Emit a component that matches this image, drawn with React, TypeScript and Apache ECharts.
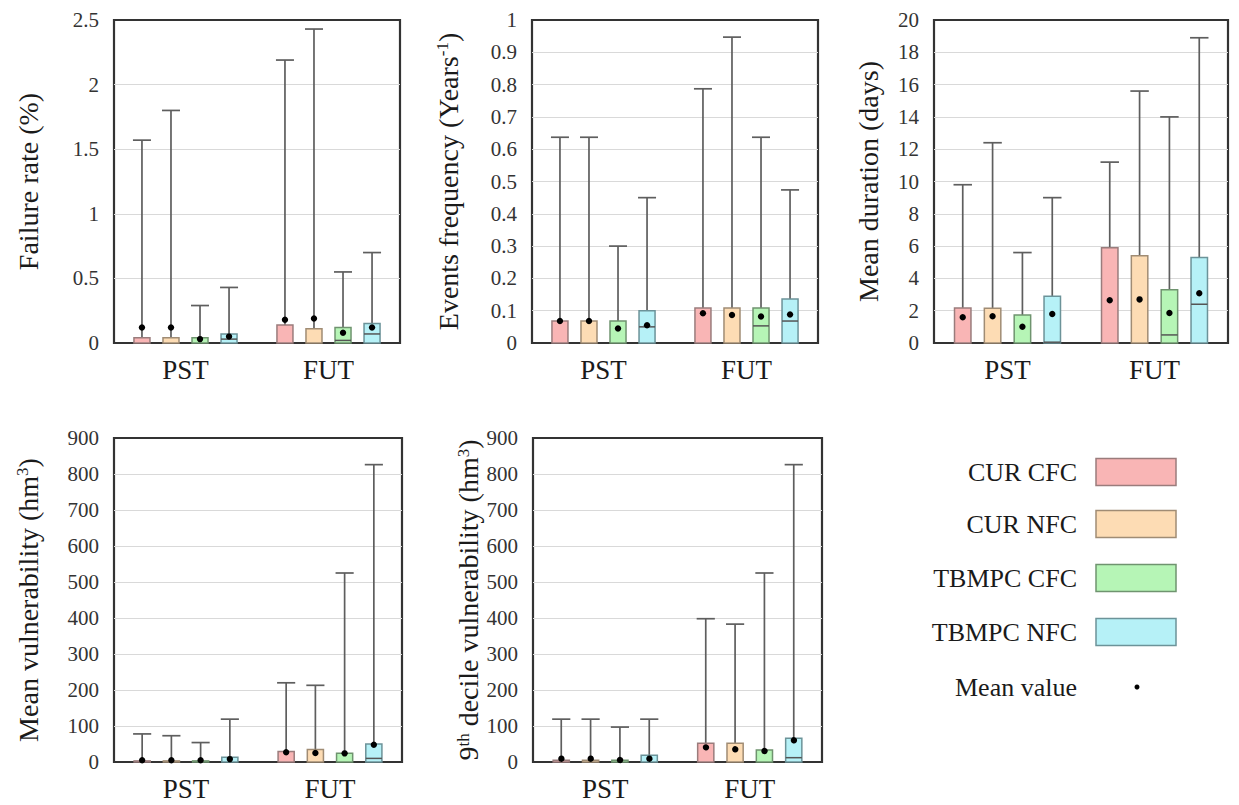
import React, { useEffect, useRef } from 'react';
import * as echarts from 'echarts';

const periods = ['PST', 'FUT'];
const scenarios = ['CUR CFC', 'CUR NFC', 'TBMPC CFC', 'TBMPC NFC'];
const fills = ['#f9b5b5', '#fddcb4', '#b6f5b6', '#b6f1f7'];
const strokes = ['#9a7c7c', '#a08c74', '#6f946f', '#6c9399'];

// values ordered: PST (4 scenarios), FUT (4 scenarios)
const failMax = [1.57, 1.8, 0.29, 0.43, 2.19, 2.43, 0.55, 0.7];
const failQ3 = [0.04, 0.04, 0.04, 0.07, 0.14, 0.11, 0.12, 0.15];
const failMed = [0, 0, 0, 0.03, 0, 0, 0.02, 0.07];
const failMean = [0.12, 0.12, 0.03, 0.05, 0.18, 0.19, 0.08, 0.12];

const freqMax = [0.637, 0.637, 0.3, 0.45, 0.787, 0.947, 0.637, 0.474];
const freqQ3 = [0.068, 0.068, 0.068, 0.1, 0.108, 0.108, 0.108, 0.136];
const freqMed = [0, 0, 0, 0.05, 0, 0, 0.053, 0.068];
const freqMean = [0.068, 0.068, 0.045, 0.055, 0.092, 0.087, 0.082, 0.088];

const durMax = [9.8, 12.4, 5.6, 9.0, 11.2, 15.6, 14.0, 18.9];
const durQ3 = [2.17, 2.15, 1.73, 2.9, 5.9, 5.4, 3.3, 5.3];
const durMed = [0, 0, 0, 0.05, 0, 0, 0.5, 2.4];
const durMean = [1.6, 1.65, 1.0, 1.8, 2.65, 2.7, 1.86, 3.08];

const mvMax = [78, 73, 54, 119, 220, 213, 525, 826];
const mvQ3 = [3, 3, 3, 13, 29, 35, 24, 50];
const mvMed = [0, 0, 0, 0, 0, 0, 0, 10];
const mvMean = [5, 5, 5, 8, 27, 25, 24, 48];

const dvMax = [119, 119, 97, 119, 398, 383, 525, 826];
const dvQ3 = [5, 5, 5, 19, 52, 52, 33, 66];
const dvMed = [0, 0, 0, 0, 0, 0, 0, 12];
const dvMean = [12, 12, 8, 12, 44, 38, 33, 63];

const FONT = "'Liberation Serif', 'DejaVu Serif', serif";

const panels = [
  { name: 'Failure rate (%)', max: 2.5, interval: 0.5, gap: 72, grid: { left: 114, top: 20, width: 286, height: 323 }, q3: failQ3, med: failMed, mx: failMax, mean: failMean },
  { name: 'Events frequency (Years{sup|-1})', max: 1, interval: 0.1, gap: 70, grid: { left: 532, top: 20, width: 286, height: 323 }, q3: freqQ3, med: freqMed, mx: freqMax, mean: freqMean },
  { name: 'Mean duration (days)', max: 20, interval: 2, gap: 52, grid: { left: 934, top: 20, width: 294, height: 323 }, q3: durQ3, med: durMed, mx: durMax, mean: durMean },
  { name: 'Mean vulnerability (hm{sup|3})', max: 900, interval: 100, gap: 72, grid: { left: 114, top: 438, width: 288, height: 324 }, q3: mvQ3, med: mvMed, mx: mvMax, mean: mvMean },
  { name: '9{sup|th} decile vulnerability (hm{sup|3})', max: 900, interval: 100, gap: 48, grid: { left: 533, top: 438, width: 289, height: 324 }, q3: dvQ3, med: dvMed, mx: dvMax, mean: dvMean },
];

const renderBox = (params: any, api: any) => {
  const cat = api.value(0);
  const s = api.value(1);
  const band = api.size([1, 0])[0];
  const base = api.coord([cat, 0]);
  const x = base[0] + (s - 1.5) * band * 0.203;
  const bw = band * 0.112;
  const y0 = base[1];
  const yQ3 = api.coord([cat, api.value(2)])[1];
  const med = api.value(3);
  const yMed = api.coord([cat, med])[1];
  const yMax = api.coord([cat, api.value(4)])[1];
  const yMean = api.coord([cat, api.value(5)])[1];
  const children: any[] = [
    { type: 'line', shape: { x1: x, y1: yQ3, x2: x, y2: yMax }, style: { stroke: '#5e5e5e', lineWidth: 1.7 } },
    { type: 'line', shape: { x1: x - bw / 2 - 1, y1: yMax, x2: x + bw / 2 + 1, y2: yMax }, style: { stroke: '#5e5e5e', lineWidth: 1.7 } },
    { type: 'rect', shape: { x: x - bw / 2, y: yQ3, width: bw, height: y0 - yQ3 }, style: { fill: fills[s], stroke: strokes[s], lineWidth: 1.5 } },
  ];
  if (med > 0) {
    children.push({ type: 'line', shape: { x1: x - bw / 2, y1: yMed, x2: x + bw / 2, y2: yMed }, style: { stroke: '#555', lineWidth: 1.5 } });
  }
  children.push({ type: 'circle', shape: { cx: x, cy: yMean, r: 3.2 }, style: { fill: '#000' } });
  return { type: 'group', children };
};

export default function App() {
  const ref = useRef<HTMLDivElement>(null);
  useEffect(() => {
    if (!ref.current) return;
    const chart = echarts.init(ref.current, null, { renderer: 'svg' });
    const grids: any[] = [];
    const xAxes: any[] = [];
    const yAxes: any[] = [];
    const series: any[] = [];
    panels.forEach((p, i) => {
      grids.push({ ...p.grid, show: true, borderColor: '#333', borderWidth: 2.2, backgroundColor: '#fff' });
      xAxes.push({
        type: 'category', gridIndex: i, data: periods, boundaryGap: true,
        axisLine: { show: false }, axisTick: { show: false },
        axisLabel: { fontFamily: FONT, fontSize: 27, color: '#1a1a1a', margin: 13 },
        splitLine: { show: false },
      });
      yAxes.push({
        type: 'value', gridIndex: i, min: 0, max: p.max, interval: p.interval,
        name: p.name, nameLocation: 'middle', nameGap: p.gap, nameRotate: 90,
        nameTextStyle: {
          fontFamily: FONT, fontSize: 28, color: '#1a1a1a',
          rich: { sup: { fontFamily: FONT, fontSize: 17, color: '#1a1a1a', verticalAlign: 'top' } },
        },
        axisLine: { show: false }, axisTick: { show: false },
        axisLabel: { fontFamily: FONT, fontSize: 21, color: '#333', margin: 15 },
        splitLine: { show: true, showMinLine: false, showMaxLine: false, lineStyle: { color: '#d9d9d9', width: 1 } },
      });
      const data = p.mx.map((_, k) => [Math.floor(k / 4), k % 4, p.q3[k], p.med[k], p.mx[k], p.mean[k]]);
      series.push({
        type: 'custom', xAxisIndex: i, yAxisIndex: i, renderItem: renderBox, clip: false,
        encode: { x: 0, y: [2, 3, 4, 5] }, data, z: 5,
      });
    });

    const legendY = [472, 524, 578, 632];
    const graphic: any[] = [];
    scenarios.forEach((s, k) => {
      graphic.push({
        type: 'text', x: 1077, y: legendY[k],
        style: { text: s, font: `26px ${FONT}`, fill: '#1a1a1a', align: 'right', textAlign: 'right', verticalAlign: 'middle', textVerticalAlign: 'middle' },
      });
      graphic.push({
        type: 'rect', shape: { x: 1096, y: legendY[k] - 13.5, width: 80, height: 27 },
        style: { fill: fills[k], stroke: strokes[k], lineWidth: 1.5 },
      });
    });
    graphic.push({
      type: 'text', x: 1077, y: 687,
      style: { text: 'Mean value', font: `26px ${FONT}`, fill: '#1a1a1a', align: 'right', textAlign: 'right', verticalAlign: 'middle', textVerticalAlign: 'middle' },
    });
    graphic.push({ type: 'circle', shape: { cx: 1137, cy: 687, r: 2.5 }, style: { fill: '#000' } });

    chart.setOption({
      animation: false,
      backgroundColor: '#fff',
      grid: grids,
      xAxis: xAxes,
      yAxis: yAxes,
      series,
      graphic,
    });
    return () => chart.dispose();
  }, []);
  return <div ref={ref} style={{ position: 'fixed', left: 0, top: 0, width: 1239, height: 805, background: '#fff' }} />;
}
